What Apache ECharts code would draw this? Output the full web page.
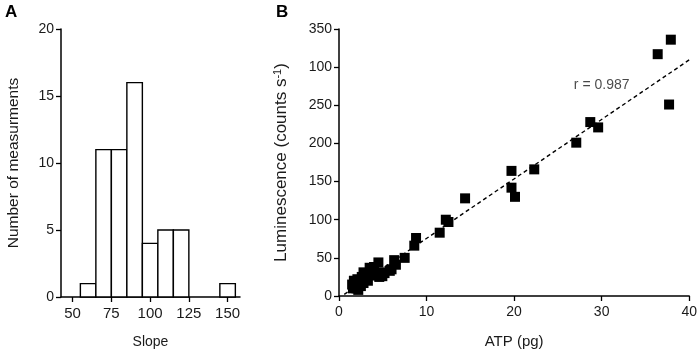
<!DOCTYPE html>
<html><head><meta charset="utf-8">
<script src="https://cdn.jsdelivr.net/npm/echarts@6/dist/echarts.min.js"></script>
<style>html,body{margin:0;padding:0;background:#fff}#c{width:700px;height:354px}</style>
</head><body><div id="c"></div>
<script>
// Panel A: histogram of slopes
const binStarts = [55, 65, 75, 85, 95, 105, 115, 145];
const binWidth = 10;
const binCounts = [1, 11, 11, 16, 4, 5, 5, 1];
const slopeTicks = [50, 75, 100, 125, 150];
const countTicks = [0, 5, 10, 15, 20];

// Panel B: ATP vs luminescence
const atp = [37.9, 36.4, 37.7, 28.7, 29.6, 27.1, 22.3, 19.7, 19.7, 20.1, 14.4, 12.2, 12.5, 11.5, 8.8, 8.6, 7.5, 6.3, 6.5, 5.8, 5.0, 4.5, 4.5, 4.95, 3.5, 3.9, 2.8, 3.1,
  1.5, 1.7, 1.8, 2.0, 2.1, 2.3, 2.5, 2.6, 2.2, 1.6, 3.0, 3.3, 2.8, 4.0, 3.6, 4.2, 5.2, 6.0, 4.6];
const lum = [336, 317, 251, 228, 221, 201, 166, 164, 142, 130, 128, 100, 97, 83, 76, 66, 50, 47, 41, 33, 31, 44, 27, 26, 37, 32, 31, 22,
  15, 20, 12, 10, 22, 18, 13, 25, 8, 10, 28, 20, 17, 38, 30, 27, 30, 35, 25];
const fitX = [0.6, 40];
const fitY = [2.2, 309.5];
const atpTicks = [0, 10, 20, 30, 40];
const lumTickValues = [0, 50, 100, 150, 200, 250, 300, 350];
const lumTickLabels = ['0', '50', '100', '150', '200', '250', '100', '350'];
const rLabel = 'r = 0.987';
const rLabelPos = [30.0, 277];

const FONT = 'Liberation Sans, Arial, sans-serif';
const TXT = '#1a1a1a';
const axisLine = {show: true, onZero: false, lineStyle: {color: '#000', width: 1.5}};
const axisTick = {show: true, length: 5, lineStyle: {color: '#000', width: 1.3}};

const chart = echarts.init(document.getElementById('c'), null, {renderer: 'canvas'});
chart.setOption({
  animation: false,
  backgroundColor: '#fff',
  textStyle: {fontFamily: FONT},
  graphic: [
    {type: 'text', left: 5, top: 4, style: {text: 'A', font: 'bold 17px ' + FONT, fill: '#000'}},
    {type: 'text', left: 276, top: 4, style: {text: 'B', font: 'bold 17px ' + FONT, fill: '#000'}}
  ],
  grid: [
    {left: 61, top: 29, width: 179, height: 269},
    {left: 339, top: 29, width: 353, height: 269}
  ],
  xAxis: [
    {gridIndex: 0, type: 'value', min: 42.5, max: 158,
     name: 'Slope', nameLocation: 'middle', nameGap: 38,
     nameTextStyle: {fontSize: 14, color: TXT, fontFamily: FONT},
     axisLine, splitLine: {show: false},
     axisTick: Object.assign({customValues: slopeTicks}, axisTick),
     axisLabel: {customValues: slopeTicks, fontSize: 15, color: TXT, margin: 9, fontFamily: FONT}},
    {gridIndex: 1, type: 'value', min: 0, max: 40, interval: 10,
     name: 'ATP (pg)', nameLocation: 'middle', nameGap: 38,
     nameTextStyle: {fontSize: 15, color: TXT, fontFamily: FONT},
     axisLine, splitLine: {show: false}, axisTick,
     axisLabel: {fontSize: 14, color: TXT, margin: 9, fontFamily: FONT,
       formatter: v => atpTicks.includes(v) ? String(v) : ''}}
  ],
  yAxis: [
    {gridIndex: 0, type: 'value', min: 0, max: 20, interval: 5,
     name: 'Number of measurments', nameLocation: 'middle', nameGap: 39,
     nameTextStyle: {fontSize: 15.5, color: TXT, fontFamily: FONT},
     axisLine, splitLine: {show: false}, axisTick,
     axisLabel: {fontSize: 14, color: TXT, margin: 7, fontFamily: FONT,
       formatter: v => countTicks.includes(v) ? String(v) : ''}},
    {gridIndex: 1, type: 'value', min: 0, max: 350, interval: 50,
     name: '{n|Luminescence (counts s}{s|-1}{n|)}', nameLocation: 'middle', nameGap: 49,
     nameTextStyle: {fontSize: 17, color: TXT, fontFamily: FONT,
       rich: {n: {fontSize: 17, color: TXT, fontFamily: FONT}, s: {fontSize: 11, color: TXT, fontFamily: FONT, verticalAlign: 'top', padding: [0, 0, 7, 0]}}},
     axisLine, splitLine: {show: false}, axisTick,
     axisLabel: {fontSize: 14, color: TXT, margin: 7, fontFamily: FONT,
       formatter: v => { const i = lumTickValues.indexOf(v); return i >= 0 ? lumTickLabels[i] : ''; }}}
  ],
  series: [
    {type: 'custom', xAxisIndex: 0, yAxisIndex: 0,
     data: binStarts.map((s, i) => [s, s + binWidth, binCounts[i]]),
     renderItem: (params, api) => {
       const p0 = api.coord([api.value(0), api.value(2)]);
       const p1 = api.coord([api.value(1), 0]);
       return {type: 'rect', shape: {x: p0[0], y: p0[1], width: p1[0] - p0[0], height: p1[1] - p0[1]},
         style: {fill: '#fff', stroke: '#000', lineWidth: 1.4}};
     }},
    {type: 'line', xAxisIndex: 1, yAxisIndex: 1, data: fitX.map((x, i) => [x, fitY[i]]),
     symbol: 'none', lineStyle: {color: '#000', width: 1.4, type: [4, 3]}, z: 1},
    {type: 'scatter', xAxisIndex: 1, yAxisIndex: 1, data: atp.map((x, i) => [x, lum[i]]),
     symbol: 'rect', symbolSize: 10, itemStyle: {color: '#000', opacity: 1}, z: 3},
    {type: 'scatter', xAxisIndex: 1, yAxisIndex: 1, data: [rLabelPos], symbolSize: 0,
     label: {show: true, position: 'inside', formatter: rLabel, fontSize: 14, color: TXT, fontFamily: FONT},
     silent: true}
  ]
});
</script></body></html>
